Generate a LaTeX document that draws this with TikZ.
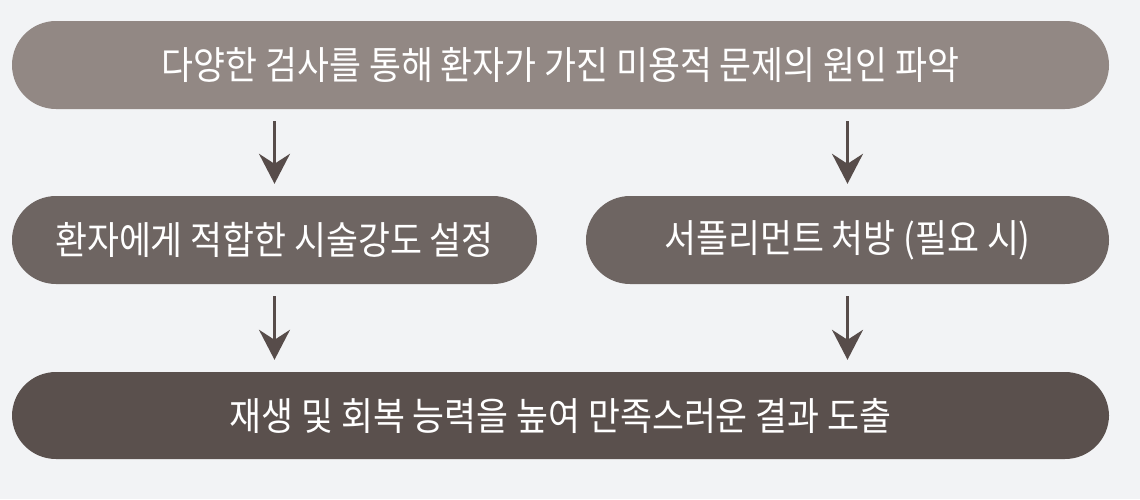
\documentclass[tikz,border=0pt]{standalone}
\usepackage{fontspec}
\setmainfont{Noto Sans CJK KR}[FakeStretch=0.9]
\usetikzlibrary{arrows.meta}
\definecolor{bgc}{HTML}{F2F3F5}
\definecolor{topc}{HTML}{928884}
\definecolor{midc}{HTML}{6E6562}
\definecolor{botc}{HTML}{5A504D}
\definecolor{arrc}{HTML}{574C4A}
\tikzset{
  pill/.style={rectangle, rounded corners=44pt, minimum height=88pt, inner sep=0pt,
    text=white, font=\fontsize{38.6}{44}\selectfont},
  flowarrow/.style={draw=arrc, line width=2.5pt, shorten <=12pt, shorten >=12pt,
    -{Stealth[length=30pt, width=31pt, inset=10pt]}}
}
\begin{document}
\begin{tikzpicture}[x=1pt,y=-1pt]
\useasboundingbox[fill=bgc] (0,0) rectangle (1140,499);
\node[pill, fill=topc, minimum width=1097pt] (top) at (560.5,65) {다양한 검사를 통해 환자가 가진 미용적 문제의 원인 파악};
\node[pill, fill=midc, minimum width=525pt] (left) at (274.5,240) {환자에게 적합한 시술강도 설정};
\node[pill, fill=midc, minimum width=523pt] (right) at (847.5,240) {서플리먼트 처방 (필요 시)};
\node[pill, fill=botc, minimum width=1097pt, minimum height=87pt] (bot) at (560.5,415.5) {재생 및 회복 능력을 높여 만족스러운 결과 도출};
\draw[flowarrow] (left.north |- top.south) -- (left.north);
\draw[flowarrow] (right.north |- top.south) -- (right.north);
\draw[flowarrow] (left.south) -- (left.south |- bot.north);
\draw[flowarrow] (right.south) -- (right.south |- bot.north);
\end{tikzpicture}
\end{document}
